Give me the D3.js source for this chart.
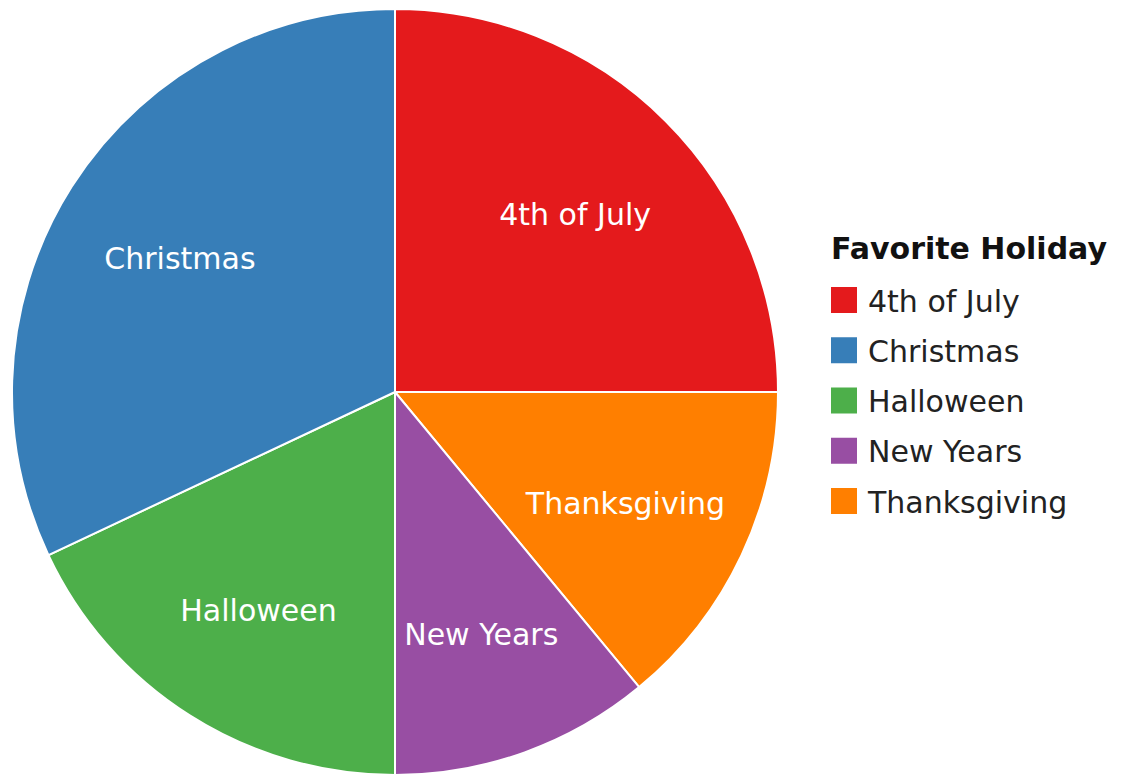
<!DOCTYPE html>
<html>
<head>
<meta charset="utf-8">
<script src="https://cdn.jsdelivr.net/npm/d3@7"></script>
<style>
  html, body { margin: 0; padding: 0; background: #fff; }
  svg { display: block; }
</style>
</head>
<body>
<svg id="chart" width="1122" height="775"></svg>
<script>
// Data (clockwise from 12 o'clock)
const pieCategories = ["4th of July", "Thanksgiving", "New Years", "Halloween", "Christmas"];
const pieValues = [25, 14, 11, 18, 32];
// Legend order
const legendCategories = ["4th of July", "Christmas", "Halloween", "New Years", "Thanksgiving"];
const legendTitle = "Favorite Holiday";
const colorDomain = ["4th of July", "Christmas", "Halloween", "New Years", "Thanksgiving"];
const colorRange = ["#e41a1c", "#377eb8", "#4daf4a", "#984ea3", "#ff7f00"];

const svg = d3.select("#chart");
const cx = 395, cy = 392, r = 383;
const font = "'DejaVu Sans', Verdana, sans-serif";

const color = d3.scaleOrdinal().domain(colorDomain).range(colorRange);

const data = pieCategories.map((c, i) => ({ name: c, value: pieValues[i] }));
const pie = d3.pie().value(d => d.value).sort(null);
const arc = d3.arc().innerRadius(0).outerRadius(r);
const labelArc = d3.arc().innerRadius(r * 0.665).outerRadius(r * 0.665);

const g = svg.append("g").attr("transform", `translate(${cx},${cy})`);
const arcs = pie(data);

g.selectAll("path.slice")
  .data(arcs)
  .join("path")
  .attr("class", "slice")
  .attr("d", arc)
  .attr("fill", d => color(d.data.name))
  .attr("stroke", "#fff")
  .attr("stroke-width", 2);

g.selectAll("text.lbl")
  .data(arcs)
  .join("text")
  .attr("class", "lbl")
  .attr("transform", d => `translate(${labelArc.centroid(d)})`)
  .attr("text-anchor", "middle")
  .attr("dominant-baseline", "central")
  .attr("dy", 3)
  .attr("fill", "#fff")
  .attr("font-family", font)
  .attr("font-size", 30)
  .text(d => d.data.name);

// Legend
const lg = svg.append("g").attr("transform", "translate(831,0)");
lg.append("text")
  .attr("x", 0)
  .attr("y", 259)
  .attr("font-family", font)
  .attr("font-weight", "bold")
  .attr("font-size", 30)
  .attr("fill", "#111")
  .text(legendTitle);

const rowY = d3.scalePoint().domain(legendCategories).range([300, 501]);
const items = lg.selectAll("g.item")
  .data(legendCategories)
  .join("g")
  .attr("class", "item")
  .attr("transform", d => `translate(0,${rowY(d)})`);

items.append("rect")
  .attr("x", 0)
  .attr("y", -13)
  .attr("width", 26)
  .attr("height", 26)
  .attr("fill", d => color(d));

items.append("text")
  .attr("x", 37)
  .attr("y", 0)
  .attr("dy", 1)
  .attr("dominant-baseline", "central")
  .attr("font-family", font)
  .attr("font-size", 30)
  .attr("fill", "#222")
  .text(d => d);
</script>
</body>
</html>
